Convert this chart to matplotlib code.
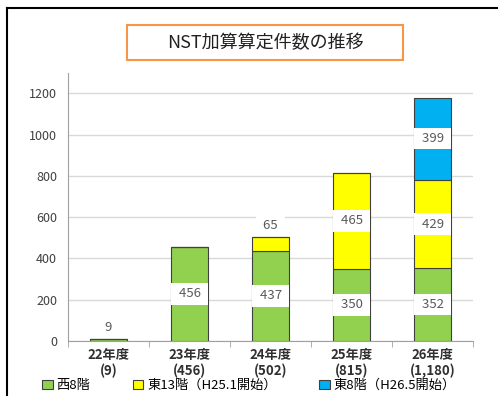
import matplotlib.pyplot as plt
from matplotlib.patches import Patch
from matplotlib.lines import Line2D
import numpy as np

plt.rcParams['font.family'] = ['Noto Sans CJK JP', 'DejaVu Sans']

years = ["22年度", "23年度", "24年度", "25年度", "26年度"]
totals_txt = ["(9)", "(456)", "(502)", "(815)", "(1,180)"]
west8 = [9, 456, 437, 350, 352]
east13 = [0, 0, 65, 465, 429]
east8 = [0, 0, 0, 0, 399]
series_names = ["西8階", "東13階（H25.1開始）", "東8階（H26.5開始）"]
colors = ["#92D050", "#FFFF00", "#00B0F0"]

fig = plt.figure(figsize=(4.98, 3.96), dpi=100)
ax = fig.add_axes([0.137, 0.139, 0.813, 0.677])

x = np.arange(len(years))
bottom = np.zeros(len(years))
for vals, col in zip([west8, east13, east8], colors):
    vals = np.array(vals, dtype=float)
    ax.bar(x, vals, 0.46, bottom=bottom, color=col, edgecolor="#404040",
           linewidth=0.8, zorder=3)
    for xi, v, b in zip(x, vals, bottom):
        if v <= 0:
            continue
        if v >= 200:
            ax.text(xi, b + v / 2, f" {int(v)} ", ha="center", va="center",
                    fontsize=9.5, color="#595959", zorder=4,
                    bbox=dict(facecolor="white", edgecolor="none", pad=3))
        else:
            ax.text(xi, b + v + 57, f" {int(v)} ", ha="center", va="center",
                    fontsize=9.5, color="#595959", zorder=4,
                    bbox=dict(facecolor="white", edgecolor="none", pad=3))
    bottom += vals

ax.set_xlim(-0.5, len(years) - 0.5)
ax.set_ylim(0, 1300)
ax.set_yticks(range(0, 1201, 200))
ax.yaxis.grid(True, color="#D9D9D9", linewidth=1, zorder=0)
ax.set_axisbelow(True)
ax.tick_params(axis="y", length=0, labelsize=9, labelcolor="#404040", pad=8)
ax.set_xticks(x)
ax.set_xticklabels([f"{y}\n{t}" for y, t in zip(years, totals_txt)],
                   fontsize=9.5, fontweight="bold", color="#303030",
                   linespacing=1.15)
ax.set_xticks(np.arange(-0.5, len(years)), minor=True)
ax.tick_params(axis="x", which="major", length=0, pad=5)
ax.tick_params(axis="x", which="minor", length=4, color="#A0A0A0")
for s in ["top", "right"]:
    ax.spines[s].set_visible(False)
for s in ["left", "bottom"]:
    ax.spines[s].set_color("#A0A0A0")

# title box
fig.text(0.533, 0.891, "NST加算算定件数の推移", ha="center", va="center",
         fontsize=13, color="#202020")
fig.patches.append(plt.Rectangle((0.255, 0.848), 0.554, 0.088, fill=False,
                                 edgecolor="#F79646", linewidth=1.5,
                                 transform=fig.transFigure))

handles = [Patch(facecolor=c, edgecolor="#404040", linewidth=0.8) for c in colors]
fig.legend(handles, series_names, loc="center", bbox_to_anchor=(0.5, 0.026),
           ncol=3, frameon=False, fontsize=9.5, handlelength=0.8,
           handleheight=0.6, handletextpad=0.3, columnspacing=3.2)

# frame lines at top and left
fig.add_artist(Line2D([0.014, 1.0], [0.98, 0.98], color="black", linewidth=1.5,
                      transform=fig.transFigure))
fig.add_artist(Line2D([0.014, 0.014], [0.0, 0.98], color="black", linewidth=1.5,
                      transform=fig.transFigure))

fig.savefig("out.png", dpi=100)
